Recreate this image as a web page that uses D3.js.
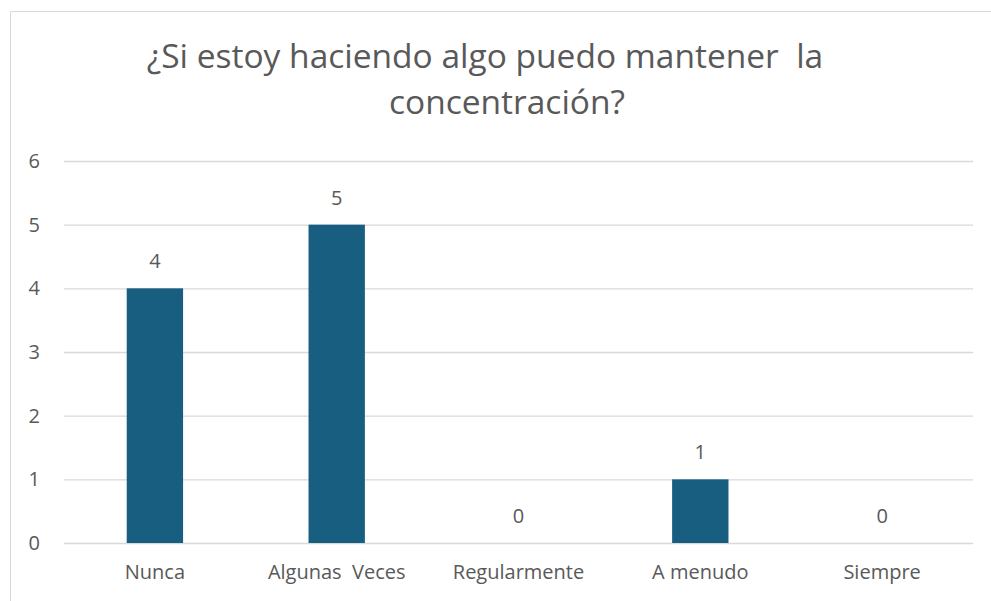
<!DOCTYPE html>
<html>
<head>
<meta charset="utf-8">
<script src="https://cdn.jsdelivr.net/npm/d3@7"></script>
<style>
  body { margin: 0; background: #fff; }
  svg text { font-family: "Open Sans", sans-serif; fill: #595959; }
</style>
</head>
<body>
<div id="chart-area"></div>
<script>
// chart data
var categories = ['Nunca', 'Algunas  Veces', 'Regularmente', 'A menudo', 'Siempre'];
var values = [4, 5, 0, 1, 0];
var yTicks = [0, 1, 2, 3, 4, 5, 6];
var titleLines = ['¿Si estoy haciendo algo puedo mantener  la', 'concentración?'];

var W = 991, H = 601;
var margin = { top: 161, right: 18, bottom: 58, left: 64 },
	width = W - margin.left - margin.right,
	height = H - margin.top - margin.bottom;

var svg = d3.select('#chart-area')
	.append('svg')
		.attr('width', W)
		.attr('height', H);

// chart frame
svg.append('path')
	.attr('d', 'M10.5,' + H + 'V11.5H' + W)
	.attr('fill', 'none')
	.attr('stroke', '#d9d9d9')
	.attr('stroke-width', 1);

svg.selectAll('.title')
	.data(titleLines)
	.enter().append('text')
		.attr('class', 'title')
		.attr('x', (d, i) => i === 0 ? 485 : 507)
		.attr('y', (d, i) => 68 + i * 46)
		.attr('text-anchor', 'middle')
		.attr('font-size', '33.5px')
		.style('white-space', 'pre')
		.text(d => d);

var g = svg.append('g')
	.attr('transform', 'translate(' + margin.left + ',' + margin.top + ')');

var x = d3.scaleBand()
	.domain(categories)
	.range([0, width])
	.paddingInner(0.69)
	.paddingOuter(0.345);

var y = d3.scaleLinear()
	.domain([0, 6])
	.range([height, 0]);

// gridlines
g.append('g')
	.call(d3.axisLeft(y).tickValues(yTicks).tickSize(-width).tickFormat(''))
	.call(a => a.select('.domain').remove())
	.call(a => a.selectAll('line').attr('stroke', '#d9d9d9').attr('stroke-width', 1.3));

// y tick labels
g.append('g')
	.call(d3.axisLeft(y).tickValues(yTicks).tickFormat(d3.format('d')).tickSize(0).tickPadding(24))
	.call(a => a.select('.domain').remove())
	.call(a => a.selectAll('text').attr('font-size', '20px'));

// x labels
g.append('g')
	.attr('transform', 'translate(0,' + height + ')')
	.call(d3.axisBottom(x.copy().paddingInner(0).paddingOuter(0)).tickSize(0).tickPadding(22))
	.call(a => a.select('.domain').remove())
	.call(a => a.selectAll('text').attr('font-size', '20px').style('white-space', 'pre'));

g.selectAll('rect.bar')
	.data(values)
	.enter().append('rect')
		.attr('class', 'bar')
		.attr('x', (d, i) => x(categories[i]))
		.attr('y', d => y(d))
		.attr('width', x.bandwidth())
		.attr('height', d => height - y(d))
		.attr('fill', '#175e81');

g.selectAll('text.val')
	.data(values)
	.enter().append('text')
		.attr('class', 'val')
		.attr('x', (d, i) => x(categories[i]) + x.bandwidth() / 2)
		.attr('y', d => y(d) - 20)
		.attr('text-anchor', 'middle')
		.attr('font-size', '20px')
		.text(d => d);
</script>
</body>
</html>
